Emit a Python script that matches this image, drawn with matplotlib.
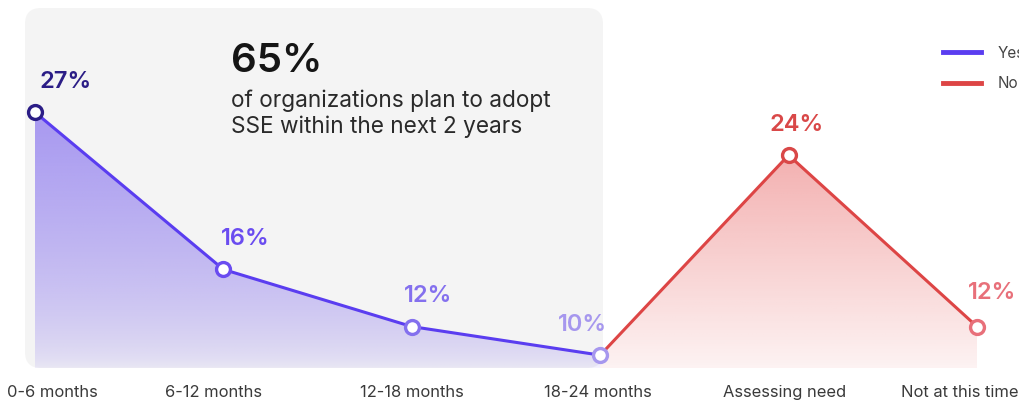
import numpy as np
import matplotlib
matplotlib.use('Agg')
import matplotlib.pyplot as plt
from matplotlib.patches import FancyBboxPatch
from matplotlib.lines import Line2D
import matplotlib.transforms as mtransforms

# ================= dados =================
categories = ['0-6 months', '6-12 months', '12-18 months', '18-24 months',
              'Assessing need', 'Not at this time']
yes_vals = [27, 16, 12, 10]      # 0-6 ... 18-24 months
no_vals = [24, 12]               # Assessing need, Not at this time
headline = '65%'
headline_sub = 'of organizations plan to adopt\nSSE within the next 2 years'

# ================= estilo =================
plt.rcParams['font.family'] = ['Inter', 'DejaVu Sans']

yes_color = '#5a3df0'
no_color = '#dd4545'
yes_pt_colors = ['#2b1d86', '#6a4cf0', '#8470ee', '#a697ee']
no_pt_colors = ['#d94848', '#e8707a']
# deslocamento dos rotulos (pontos tipograficos)
yes_lbl_off = [(22, 22), (16, 22), (12, 22), (-13, 22)]
no_lbl_off = [(6, 22), (11, 24)]
# deslocamento horizontal dos nomes das categorias (pontos)
tick_dx = [-20, -7, 0, -1.5, -3, 30]

W, H = 1020, 403
fig = plt.figure(figsize=(W / 100, H / 100), dpi=100)
fig.patch.set_facecolor('white')

ax = fig.add_axes([0, 35 / H, 1, 360 / H])
ax.set_facecolor('none')
ymin, ymax = 9.1, 34.3
xmin, xmax = -35 / 188.4, (W - 35) / 188.4

# caixa cinza arredondada
box = FancyBboxPatch((25 / W, 35 / H), 578 / W, 360 / H,
                     boxstyle='round,pad=0,rounding_size=%f' % (16 / W),
                     mutation_aspect=W / H, transform=fig.transFigure,
                     facecolor='#f4f4f4', edgecolor='none', zorder=0)
ax.add_patch(box)

x_yes = np.arange(len(yes_vals))
x_no = np.arange(len(yes_vals) - 1, len(categories))
y_no = [yes_vals[-1]] + no_vals

# ---- preenchimento em degrade (roxo) ----
poly = ax.fill_between(x_yes, yes_vals, ymin, color='none', lw=0)
nx, ny = 50, 300
gy = np.linspace(0, 1, ny)[:, None] * np.ones((1, nx))
img = np.zeros((ny, nx, 4))
img[..., 0] = 105 / 255
img[..., 1] = 78 / 255
img[..., 2] = 238 / 255
img[..., 3] = 0.07 + 0.48 * gy ** 0.6
im = ax.imshow(img, extent=[x_yes[0], x_yes[-1], ymin, max(yes_vals)],
               origin='lower', aspect='auto', zorder=1, interpolation='bilinear')
im.set_clip_path(poly.get_paths()[0], transform=ax.transData)

# ---- preenchimento em degrade (vermelho) ----
poly2 = ax.fill_between(x_no, y_no, ymin, color='none', lw=0)
img2 = np.zeros((ny, nx, 4))
img2[..., 0] = 228 / 255
img2[..., 1] = 72 / 255
img2[..., 2] = 72 / 255
img2[..., 3] = 0.07 + 0.36 * gy
im2 = ax.imshow(img2, extent=[x_no[0], x_no[-1], ymin, max(y_no)],
                origin='lower', aspect='auto', zorder=1, interpolation='bilinear')
im2.set_clip_path(poly2.get_paths()[0], transform=ax.transData)

# ---- linhas ----
ax.plot(x_yes, yes_vals, color=yes_color, lw=2.2, zorder=3, solid_capstyle='round')
ax.plot(x_no, y_no, color=no_color, lw=2.2, zorder=3, solid_capstyle='round')

# ---- marcadores e rotulos ----
for i, v in enumerate(yes_vals):
    ax.plot(x_yes[i], v, 'o', ms=10, mfc='white', mec=yes_pt_colors[i], mew=2.4, zorder=4)
    ax.annotate('%d%%' % v, (x_yes[i], v), xytext=yes_lbl_off[i], textcoords='offset points',
                ha='center', va='center', fontsize=17, fontweight='semibold',
                color=yes_pt_colors[i], zorder=5)
for i, v in enumerate(no_vals):
    xi = x_no[i + 1]
    ax.plot(xi, v, 'o', ms=10, mfc='white', mec=no_pt_colors[i], mew=2.4, zorder=4)
    ax.annotate('%d%%' % v, (xi, v), xytext=no_lbl_off[i], textcoords='offset points',
                ha='center', va='center', fontsize=17, fontweight='semibold',
                color=no_pt_colors[i], zorder=5)

# ---- rotulos do eixo x ----
trans = mtransforms.blended_transform_factory(ax.transData, ax.transAxes)
n = len(categories)
for i, c in enumerate(categories):
    ha = 'left' if i == 0 else ('right' if i == n - 1 else 'center')
    ax.annotate(c, (i, -0.067), xycoords=trans, xytext=(tick_dx[i], 0),
                textcoords='offset points', ha=ha, va='center', fontsize=11.9,
                color='#3a3a3a', annotation_clip=False)

# ---- destaque 65% ----
fig.text(231 / W, 1 - 62 / H, headline, fontsize=29, fontweight='semibold',
         color='#151515', va='center', ha='left')
fig.text(231 / W, 1 - 114 / H, headline_sub, fontsize=16.3, color='#2a2a2a',
         va='center', ha='left', linespacing=1.2)

# ---- legenda ----
handles = [Line2D([], [], color=yes_color, lw=3.5), Line2D([], [], color=no_color, lw=3.5)]
fig.legend(handles, ['Yes', 'No'], loc='upper left', bbox_to_anchor=(935 / W, 1 - 38 / H),
           frameon=False, fontsize=11, handlelength=2.5, handletextpad=1.1,
           labelspacing=1.0, labelcolor='#444444', borderpad=0)

ax.set_xlim(xmin, xmax)
ax.set_ylim(ymin, ymax)
ax.axis('off')

plt.savefig('out.png', dpi=100)
